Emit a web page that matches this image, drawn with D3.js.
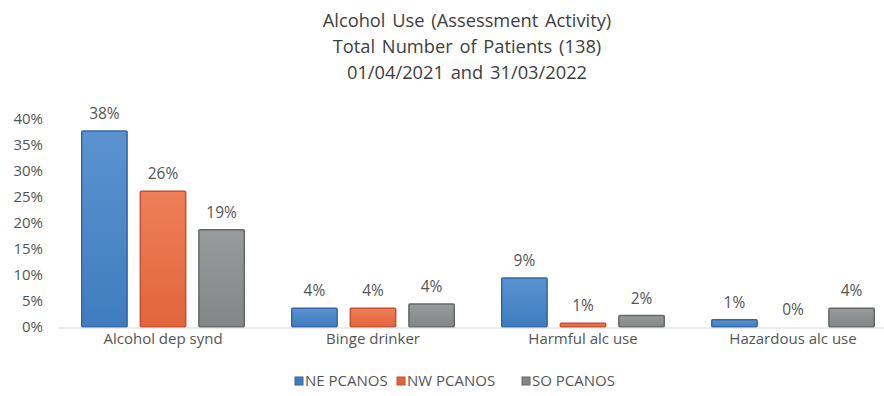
<!DOCTYPE html>
<html>
<head>
<meta charset="utf-8">
<script src="https://cdn.jsdelivr.net/npm/d3@7"></script>
<style>
  html, body { margin: 0; padding: 0; background: #fff; }
  svg { display: block; font-family: "Open Sans", Lato, sans-serif; }
</style>
</head>
<body>
<svg id="chart" width="884" height="396"></svg>
<script>
// Categories, series and values (percent of patients)
const categories = ["Alcohol dep synd", "Binge drinker", "Harmful alc use", "Hazardous alc use"];
const seriesNames = ["NE PCANOS", "NW PCANOS", "SO PCANOS"];
const neValues = [37.7, 3.6, 9.4, 1.4];
const nwValues = [26.1, 3.6, 0.7, 0.0];
const soValues = [18.7, 4.4, 2.2, 3.6];
const yTicks = [0, 5, 10, 15, 20, 25, 30, 35, 40];
const titleLines = [
  "Alcohol Use (Assessment Activity)",
  "Total Number of Patients (138)",
  "01/04/2021 and 31/03/2022"
];

const seriesValues = [neValues, nwValues, soValues];
const fills = [
  { top: "#5b93d0", bottom: "#3f7cbf", stroke: "#3467a3" },
  { top: "#ee7f58", bottom: "#e2643c", stroke: "#c0522e" },
  { top: "#989b9b", bottom: "#838686", stroke: "#666868" }
];

const svg = d3.select("#chart");
const defs = svg.append("defs");
fills.forEach((f, i) => {
  const g = defs.append("linearGradient")
    .attr("id", "grad" + i).attr("x1", 0).attr("y1", 0).attr("x2", 0).attr("y2", 1);
  g.append("stop").attr("offset", "0%").attr("stop-color", f.top);
  g.append("stop").attr("offset", "100%").attr("stop-color", f.bottom);
});

const x0 = d3.scaleBand().domain(categories).range([58, 898]).paddingInner(0).paddingOuter(0);
const x1 = d3.scaleBand().domain(seriesNames)
  .range([23, x0.bandwidth() - 23]).paddingInner(0.2);
const y = d3.scaleLinear().domain([0, 40]).range([327, 119]);

const textColor = "#555555";
const fontFamily = "'Open Sans', Lato, sans-serif";

// Title
svg.append("g").selectAll("text").data(titleLines).join("text")
  .attr("x", 467).attr("y", (d, i) => 27 + i * 26)
  .attr("text-anchor", "middle")
  .attr("font-size", 18.3).attr("fill", "#404040")
  .attr("word-spacing", 2)
  .text(d => d);

// Y axis labels (no axis line)
const yAxis = d3.axisLeft(y).tickValues(yTicks).tickFormat(d => d + "%").tickSize(0).tickPadding(0);
const yg = svg.append("g").attr("transform", "translate(43,0)").call(yAxis);
yg.select(".domain").remove();
yg.selectAll("text").attr("font-size", 15).attr("fill", textColor)
  .attr("font-family", fontFamily);

// Bars
const groups = svg.append("g").selectAll("g").data(categories).join("g")
  .attr("transform", d => `translate(${x0(d)},0)`);

groups.selectAll("rect")
  .data((c, ci) => seriesNames.map((s, si) => ({ s, si, v: seriesValues[si][ci] })))
  .join("rect")
  .attr("x", d => x1(d.s) + 0.75)
  .attr("width", x1.bandwidth() - 1.5)
  .attr("y", d => y(d.v))
  .attr("height", d => y(0) - y(d.v))
  .attr("fill", d => `url(#grad${d.si})`)
  .attr("stroke", d => fills[d.si].stroke)
  .attr("stroke-width", 1.5)
  .attr("rx", 1)
  .style("display", d => d.v > 0 ? null : "none");

// Value labels
groups.selectAll("text")
  .data((c, ci) => seriesNames.map((s, si) => ({ s, si, v: seriesValues[si][ci] })))
  .join("text")
  .attr("x", d => x1(d.s) + x1.bandwidth() / 2)
  .attr("y", d => y(d.v) - 12)
  .attr("text-anchor", "middle")
  .attr("font-size", 15.5).attr("fill", textColor)
  .text(d => Math.round(d.v) + "%");

// Baseline
svg.append("line")
  .attr("x1", 58).attr("x2", 898)
  .attr("y1", y(0) + 1).attr("y2", y(0) + 1)
  .attr("stroke", "#d9d9d9").attr("stroke-width", 1.2);

// Category labels
const xAxis = d3.axisBottom(x0).tickSize(0).tickPadding(0);
const xg = svg.append("g").attr("transform", "translate(0,333)").call(xAxis);
xg.select(".domain").remove();
xg.selectAll("text").attr("font-size", 15).attr("fill", textColor)
  .attr("font-family", fontFamily);

// Legend
const legendX = [295, 397, 522];
const legend = svg.append("g").selectAll("g").data(seriesNames).join("g")
  .attr("transform", (d, i) => `translate(${legendX[i]},377)`);
legend.append("rect")
  .attr("width", 8).attr("height", 8)
  .attr("fill", (d, i) => fills[i].bottom)
  .attr("stroke", (d, i) => fills[i].stroke).attr("stroke-width", 1);
legend.append("text")
  .attr("x", 10).attr("y", 4).attr("dy", "0.35em")
  .attr("font-size", 15).attr("fill", textColor)
  .text(d => d);
</script>
</body>
</html>
